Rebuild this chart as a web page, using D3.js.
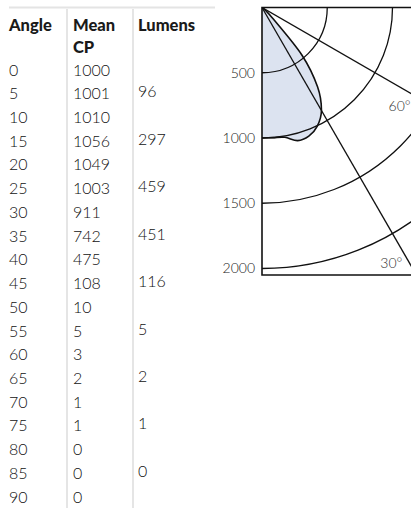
<!DOCTYPE html>
<html>
<head>
<meta charset="utf-8">
<script src="https://cdn.jsdelivr.net/npm/d3@7/dist/d3.min.js"></script>
<style>
    html, body { margin: 0; padding: 0; background: #fff; overflow: hidden; }
    svg { display: block; }
</style>
</head>
<body>
<svg id="world" width="411" height="508"></svg>
<script>
'use strict';

var angles = [0, 5, 10, 15, 20, 25, 30, 35, 40, 45, 50, 55, 60, 65, 70, 75, 80, 85, 90];
var meanCP = [1000, 1001, 1010, 1056, 1049, 1003, 911, 742, 475, 108, 10, 5, 3, 2, 1, 1, 0, 0, 0];
var lumenAngles = [5, 15, 25, 35, 45, 55, 65, 75, 85];
var lumens = [96, 297, 459, 451, 116, 5, 2, 1, 0];
var headers = [['Angle'], ['Mean', 'CP'], ['Lumens']];

// Polar grid
var rings = [500, 1000, 1500, 2000];
var spokes = [30, 60];
var rLimit = 2050;

function deg2rad(θ) {
    return θ / 180 * Math.PI;
}

var world = d3.select('#world');
var FONT = 'Lato, "Open Sans", sans-serif';

function drawTable(world) {
    var table = world.append('g').attr('id', 'table');

    var colX = [9, 73, 138],
        sepX = [67, 133];

    var row = d3.scaleLinear()
        .domain([0, angles.length - 1])
        .range([70, 497]);

    table.append('line')
        .attr('x1', 9).attr('x2', 215)
        .attr('y1', 7.5).attr('y2', 7.5)
        .attr('stroke', '#e4e4e4')
        .attr('stroke-width', 2);

    table.selectAll('line.sep')
        .data(sepX)
        .enter().append('line')
        .attr('class', 'sep')
        .attr('x1', function (d) { return d; })
        .attr('x2', function (d) { return d; })
        .attr('y1', 9)
        .attr('y2', 508)
        .attr('stroke', '#dcdcdc')
        .attr('stroke-width', 1.5);

    // Header, may wrap onto two lines
    headers.forEach(function (lines, c) {
        table.selectAll(null)
            .data(lines)
            .enter().append('text')
            .attr('x', colX[c])
            .attr('y', function (d, i) { return 25 + i * 22.5; })
            .attr('dy', '0.35em')
            .attr('font-family', FONT)
            .attr('font-weight', 900)
            .attr('font-size', '16.5px')
            .attr('fill', '#1a1a1a')
            .text(function (d) { return d; });
    });

    var body = table.append('g')
        .attr('font-family', FONT)
        .attr('font-weight', 300)
        .attr('font-size', '16px')
        .attr('fill', '#111');

    body.selectAll('text.angle')
        .data(angles)
        .enter().append('text')
        .attr('class', 'angle')
        .attr('x', colX[0])
        .attr('y', function (d, i) { return row(i); })
        .attr('dy', '0.35em')
        .text(function (d) { return d; });

    body.selectAll('text.cp')
        .data(meanCP)
        .enter().append('text')
        .attr('class', 'cp')
        .attr('x', colX[1])
        .attr('y', function (d, i) { return row(i); })
        .attr('dy', '0.35em')
        .text(function (d) { return d; });

    body.selectAll('text.lm')
        .data(lumens)
        .enter().append('text')
        .attr('class', 'lm')
        .attr('x', colX[2])
        .attr('y', function (d, i) { return row(angles.indexOf(lumenAngles[i])) - 2; })
        .attr('dy', '0.35em')
        .text(function (d) { return d; });
}

function drawPolar(world) {
    var Ox = 262,
        Oy = 7.5;

    var r = d3.scaleLinear()
        .domain([0, 2000])
        .range([0, 261]);

    // 0° points straight down, angles grow towards the right
    var toRadial = function (θ) { return Math.PI - deg2rad(θ); };

    var g = world.append('g')
        .attr('id', 'polar')
        .attr('transform', 'translate(' + Ox + ',' + Oy + ')');

    world.append('clipPath')
        .attr('id', 'frame')
        .append('rect')
        .attr('x', 0).attr('y', 0)
        .attr('width', 400).attr('height', r(rLimit));

    var inner = g.append('g').attr('clip-path', 'url(#frame)');

    var pts = angles.map(function (a, i) { return { a: a, v: meanCP[i] }; });

    var area = d3.areaRadial()
        .angle(function (d) { return toRadial(d.a); })
        .innerRadius(0)
        .outerRadius(function (d) { return r(d.v); })
        .curve(d3.curveCardinal);

    var line = d3.lineRadial()
        .angle(function (d) { return toRadial(d.a); })
        .radius(function (d) { return r(d.v); })
        .curve(d3.curveCardinal);

    inner.append('path')
        .datum(pts)
        .attr('d', area)
        .attr('fill', '#dce3f0');

    inner.append('path')
        .datum(pts)
        .attr('d', line)
        .attr('fill', 'none')
        .attr('stroke', '#111')
        .attr('stroke-width', 1.6);

    var arc = d3.arc()
        .innerRadius(function (d) { return r(d); })
        .outerRadius(function (d) { return r(d); })
        .startAngle(Math.PI / 2)
        .endAngle(Math.PI);

    inner.selectAll('path.ring')
        .data(rings)
        .enter().append('path')
        .attr('class', 'ring')
        .attr('d', arc)
        .attr('fill', 'none')
        .attr('stroke', '#111')
        .attr('stroke-width', 1.3);

    inner.selectAll('line.spoke')
        .data(spokes)
        .enter().append('line')
        .attr('class', 'spoke')
        .attr('x1', 0).attr('y1', 0)
        .attr('x2', function (d) { return Math.sin(deg2rad(d)) * r(3000); })
        .attr('y2', function (d) { return Math.cos(deg2rad(d)) * r(3000); })
        .attr('stroke', '#111')
        .attr('stroke-width', 1.3);

    // Frame: left axis, top and bottom edges
    g.append('path')
        .attr('d', 'M160,0H0V' + r(rLimit) + 'H160')
        .attr('fill', 'none')
        .attr('stroke', '#111')
        .attr('stroke-width', 1.6);

    g.selectAll('text.ring')
        .data(rings)
        .enter().append('text')
        .attr('class', 'ring')
        .attr('x', -7)
        .attr('y', function (d) { return r(d); })
        .attr('dy', '0.35em')
        .attr('text-anchor', 'end')
        .attr('font-family', FONT)
        .attr('font-weight', 300)
        .attr('font-size', '14px')
        .attr('fill', '#222')
        .text(function (d) { return d; });

    // Spoke labels sit just inside the spoke, near the edge of the view
    var labelPos = { 30: [296, 28.3], 60: [181, 55.2] };
    g.selectAll('text.spoke')
        .data(spokes)
        .enter().append('text')
        .attr('class', 'spoke')
        .attr('x', function (d) { return Math.sin(deg2rad(labelPos[d][1])) * labelPos[d][0]; })
        .attr('y', function (d) { return Math.cos(deg2rad(labelPos[d][1])) * labelPos[d][0]; })
        .attr('text-anchor', 'end')
        .attr('font-family', FONT)
        .attr('font-weight', 300)
        .attr('font-size', '14px')
        .attr('fill', '#333')
        .text(function (d) { return d + '°'; });
}

drawTable(world);
drawPolar(world);
</script>
</body>
</html>
